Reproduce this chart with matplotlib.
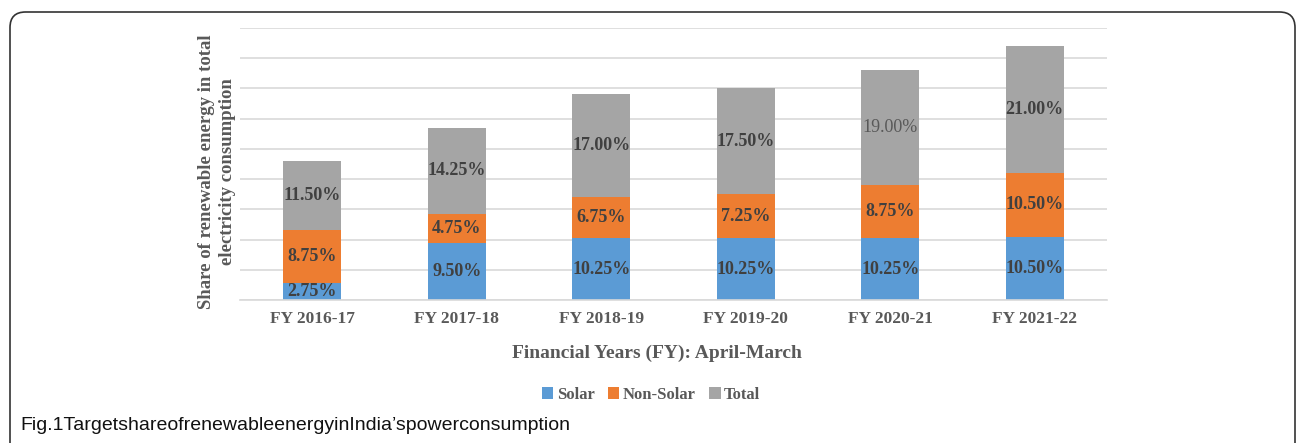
import numpy as np
from matplotlib import pyplot as plt
from matplotlib.patches import FancyBboxPatch
from matplotlib import font_manager

years = ['FY 2016-17', 'FY 2017-18', 'FY 2018-19', 'FY 2019-20', 'FY 2020-21', 'FY 2021-22']
solar = [2.75, 9.50, 10.25, 10.25, 10.25, 10.50]
non_solar = [8.75, 4.75, 6.75, 7.25, 8.75, 10.50]
total = [11.50, 14.25, 17.00, 17.50, 19.00, 21.00]

series_names = ['Solar', 'Non-Solar', 'Total']
colors = ['#5B9BD5', '#ED7D31', '#A5A5A5']

serif = 'Liberation Serif'
names = {f.name for f in font_manager.fontManager.ttflist}
caption_font = 'Liberation Sans Narrow' if 'Liberation Sans Narrow' in names else 'Liberation Sans'

fig = plt.figure(figsize=(12.98, 4.43), dpi=100)
ax = fig.add_axes([240 / 1298, 1 - 300 / 443, 867 / 1298, 272 / 443])

x = np.arange(len(years))
bottom = np.zeros(len(years))
for name, vals, col in zip(series_names, [solar, non_solar, total], colors):
    vals = np.array(vals)
    ax.bar(x, vals, 0.4, bottom=bottom, color=col, label=name, zorder=2)
    for i, v in enumerate(vals):
        # the 19.00% label is rendered lighter in the original
        light = (name == 'Total' and i == 4)
        ax.text(x[i], bottom[i] + v / 2, '%.2f%%' % v, ha='center', va='center',
                fontsize=13, family=serif,
                fontweight='normal' if light else 'bold',
                color='#595959' if light else '#404040', zorder=3)
    bottom += vals

ax.set_xlim(-0.5, len(years) - 0.5)
ax.set_ylim(0, 45)
ax.set_yticks(np.arange(0, 46, 5))
ax.set_yticklabels([])
ax.tick_params(axis='y', length=0)
ax.tick_params(axis='x', length=0, pad=8)
ax.grid(axis='y', color='#D9D9D9', linewidth=1.2, zorder=0)
for s in ['top', 'right', 'left']:
    ax.spines[s].set_visible(False)
ax.spines['bottom'].set_color('#D9D9D9')
ax.spines['bottom'].set_linewidth(1.2)

ax.set_xticks(x)
ax.set_xticklabels(years, fontsize=12.5, family=serif, fontweight='bold', color='#595959')

ax.set_xlabel('Financial Years (FY): April-March', fontsize=14, family=serif,
              fontweight='bold', color='#595959')
ax.xaxis.set_label_coords((657 - 240) / 867, (300 - 353) / 272)
ax.xaxis.label.set_va('center')
ax.set_ylabel('Share of renewable energy in total\nelectricity consumption', fontsize=13.5,
              family=serif, fontweight='bold', color='#595959', linespacing=1.25)
ax.yaxis.set_label_coords((217 - 240) / 867, (300 - 172) / 272)
ax.yaxis.label.set_va('center')

leg = fig.legend(loc='center', bbox_to_anchor=(651 / 1298, 1 - 395 / 443), ncol=3,
                 frameon=False, handlelength=0.7, handleheight=0.7, handletextpad=0.2,
                 columnspacing=0.8, prop={'family': serif, 'weight': 'bold', 'size': 12})
for t in leg.get_texts():
    t.set_color('#595959')

fig.text(20 / 1298, 1 - 425 / 443, "Fig.1TargetshareofrenewableenergyinIndia\u2019spowerconsumption",
         fontsize=14, family=[caption_font, 'DejaVu Sans'], color='#111111', va='center', ha='left')

# rounded frame round the figure
box = FancyBboxPatch((10 / 1298, -0.05), 1285 / 1298, 1 - 12 / 443 + 0.05,
                     boxstyle='round,pad=0,rounding_size=0.012',
                     transform=fig.transFigure, fill=False, edgecolor='#333333',
                     linewidth=1.2, mutation_aspect=1298 / 443)
fig.patches.append(box)

fig.savefig('out.png', dpi=100)
